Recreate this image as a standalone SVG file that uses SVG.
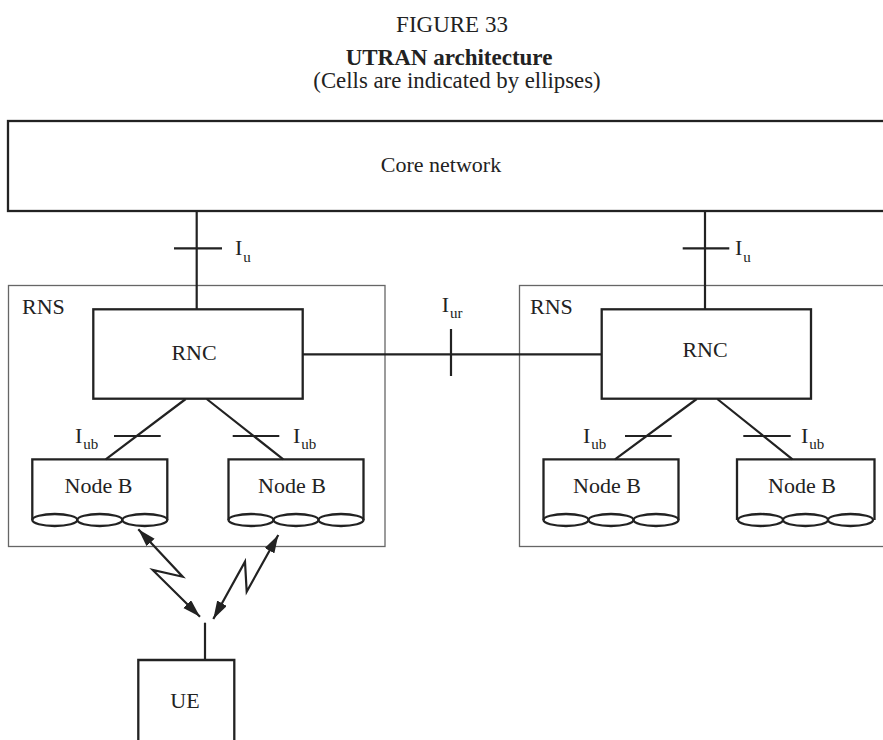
<svg xmlns="http://www.w3.org/2000/svg" width="883" height="740" viewBox="0 0 883 740">
<style>
text{font-family:"Liberation Serif","Times New Roman",serif;fill:#222;font-size:22px}
.c{text-anchor:middle}
.b{font-weight:bold}
.sub{font-size:15px}
.box{fill:none;stroke:#222;stroke-width:2.3}
.thin{fill:none;stroke:#666;stroke-width:1.3}
.ln{fill:none;stroke:#222;stroke-width:2.2}
.cell{fill:none;stroke:#222;stroke-width:2.3}
</style>
<defs>
<marker id="ah" markerUnits="userSpaceOnUse" markerWidth="20" markerHeight="12" refX="18" refY="5.5" orient="auto-start-reverse">
<path d="M0,0 L18,5.5 L0,11 Z" fill="#222"/>
</marker>
<g id="cells">
<ellipse cx="22.5" cy="0" rx="22.5" ry="6" class="cell"/>
<ellipse cx="67.5" cy="0" rx="22.5" ry="6" class="cell"/>
<ellipse cx="112.5" cy="0" rx="22.5" ry="6" class="cell"/>
</g>
</defs>
<rect width="883" height="740" fill="#fff"/>
<g id="title">
<text class="c" x="452" y="32" style="font-size:23px">FIGURE 33</text>
<text class="c b" x="449" y="65" style="font-size:23px">UTRAN architecture</text>
<text class="c" x="457" y="88" style="font-size:22.8px">(Cells are indicated by ellipses)</text>
</g>
<g id="core">
<rect x="8" y="121" width="890" height="90" class="box"/>
<text class="c" x="441" y="172">Core network</text>
</g>
<g id="rns-left">
<rect x="8.5" y="285.5" width="376.5" height="261" class="thin"/>
<text x="22" y="314">RNS</text>
</g>
<g id="rns-right">
<rect x="519.5" y="285.5" width="380" height="261" class="thin"/>
<text x="530" y="314">RNS</text>
</g>
<g id="connectors">
<path class="ln" d="M196.7,211 V309 M174,248.3 H222 M705,211 V309 M682.7,248.3 H729.3"/>
<path class="ln" d="M302.7,354.3 H601.7 M451,329 V376"/>
<path class="ln" d="M185.7,399 L105.7,459.3 M206.7,399 L283.3,459.3 M696.7,399 L615,459.3 M717.3,399 L792.5,459.3"/>
<path class="ln" d="M114,436 H160.7 M232.7,436 H279.3 M625,436 H671.7 M743.3,436 H790.7"/>
<path class="ln" d="M138.3,529.3 L182.7,576.7 L152.7,570 L200,616.7" marker-start="url(#ah)" marker-end="url(#ah)"/>
<path class="ln" d="M278.3,535 L246.7,591.7 L245,561.7 L213.3,619" marker-start="url(#ah)" marker-end="url(#ah)"/>
<path class="ln" d="M205,622.7 V660"/>
</g>
<g id="labels">
<text x="235" y="255">I<tspan class="sub" dx="1" dy="7">u</tspan></text>
<text x="735" y="255">I<tspan class="sub" dx="1" dy="7">u</tspan></text>
<text x="441.7" y="312">I<tspan class="sub" dx="1" dy="6">ur</tspan></text>
<text x="75" y="443">I<tspan class="sub" dx="1" dy="6">ub</tspan></text>
<text x="293" y="443">I<tspan class="sub" dx="1" dy="6">ub</tspan></text>
<text x="583" y="443">I<tspan class="sub" dx="1" dy="6">ub</tspan></text>
<text x="801" y="443">I<tspan class="sub" dx="1" dy="6">ub</tspan></text>
</g>
<g id="rnc-left">
<rect x="93.3" y="309.3" width="209.4" height="89.4" class="box"/>
<text class="c" x="194" y="360">RNC</text>
</g>
<g id="rnc-right">
<rect x="601.7" y="309.3" width="209.3" height="89.4" class="box"/>
<text class="c" x="705" y="357">RNC</text>
</g>
<g id="nodeb-1">
<path class="box" d="M32.3,520 V459.3 H167.3 V520"/>
<use href="#cells" x="32.3" y="520"/>
<text class="c" x="98.5" y="493">Node B</text>
</g>
<g id="nodeb-2">
<path class="box" d="M228.5,520 V459.3 H363.5 V520"/>
<use href="#cells" x="228.5" y="520"/>
<text class="c" x="292" y="493">Node B</text>
</g>
<g id="nodeb-3">
<path class="box" d="M543.5,520 V459.3 H678.5 V520"/>
<use href="#cells" x="543.5" y="520"/>
<text class="c" x="607" y="493">Node B</text>
</g>
<g id="nodeb-4">
<path class="box" d="M737,520 V459.3 H874.5 V520"/>
<use href="#cells" x="738" y="520"/>
<text class="c" x="802" y="493">Node B</text>
</g>
<g id="ue">
<path class="box" d="M138.3,745 V660 H234.3 V745"/>
<text class="c" x="185" y="708">UE</text>
</g>
</svg>
